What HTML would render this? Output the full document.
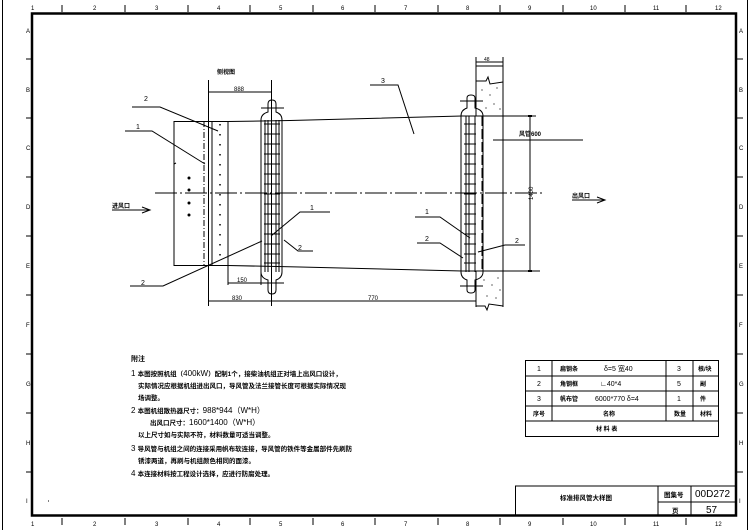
<!DOCTYPE html>
<html><head><meta charset="utf-8"><style>
html,body{margin:0;padding:0;background:#fff;}
svg{display:block;}
text{font-family:"Liberation Sans","Noto Sans CJK SC",sans-serif;fill:#000;}
.s{font-size:6px;font-weight:bold;}
.n{font-size:8px;}
</style></head><body>
<svg width="749" height="530" viewBox="0 0 749 530" xmlns="http://www.w3.org/2000/svg" stroke="#000" fill="none" stroke-width="1">
<!-- outer thin lines -->
<line x1="2.5" y1="0" x2="2.5" y2="530"/>
<line x1="747.5" y1="0" x2="747.5" y2="530"/>
<!-- main frame -->
<rect x="32" y="13.5" width="704" height="502" stroke-width="2.5"/>
<!-- column ticks top/bottom -->
<g stroke-width="1">
<line x1="62" y1="5" x2="62" y2="12"/><line x1="125" y1="5" x2="125" y2="12"/><line x1="188" y1="5" x2="188" y2="12"/><line x1="250" y1="5" x2="250" y2="12"/><line x1="313" y1="5" x2="313" y2="12"/><line x1="375" y1="5" x2="375" y2="12"/><line x1="438" y1="5" x2="438" y2="12"/><line x1="500" y1="5" x2="500" y2="12"/><line x1="563" y1="5" x2="563" y2="12"/><line x1="625" y1="5" x2="625" y2="12"/><line x1="686" y1="5" x2="686" y2="12"/>
<line x1="62" y1="518" x2="62" y2="525"/><line x1="125" y1="518" x2="125" y2="525"/><line x1="188" y1="518" x2="188" y2="525"/><line x1="250" y1="518" x2="250" y2="525"/><line x1="313" y1="518" x2="313" y2="525"/><line x1="375" y1="518" x2="375" y2="525"/><line x1="438" y1="518" x2="438" y2="525"/><line x1="500" y1="518" x2="500" y2="525"/><line x1="563" y1="518" x2="563" y2="525"/><line x1="625" y1="518" x2="625" y2="525"/><line x1="686" y1="518" x2="686" y2="525"/>
<line x1="26" y1="59" x2="32" y2="59"/><line x1="26" y1="118" x2="32" y2="118"/><line x1="26" y1="177" x2="32" y2="177"/><line x1="26" y1="236" x2="32" y2="236"/><line x1="26" y1="295" x2="32" y2="295"/><line x1="26" y1="354" x2="32" y2="354"/><line x1="26" y1="413" x2="32" y2="413"/><line x1="26" y1="472" x2="32" y2="472"/>
<line x1="737" y1="59" x2="743" y2="59"/><line x1="737" y1="118" x2="743" y2="118"/><line x1="737" y1="177" x2="743" y2="177"/><line x1="737" y1="236" x2="743" y2="236"/><line x1="737" y1="295" x2="743" y2="295"/><line x1="737" y1="354" x2="743" y2="354"/><line x1="737" y1="413" x2="743" y2="413"/><line x1="737" y1="472" x2="743" y2="472"/>
</g>
<g stroke="none" font-size="6">
<text x="31" y="10">1</text><text x="93" y="10">2</text><text x="155" y="10">3</text><text x="217" y="10">4</text><text x="279" y="10">5</text><text x="341" y="10">6</text><text x="404" y="10">7</text><text x="466" y="10">8</text><text x="528" y="10">9</text><text x="590" y="10">10</text><text x="653" y="10">11</text><text x="715" y="10">12</text>
<text x="31" y="526">1</text><text x="93" y="526">2</text><text x="155" y="526">3</text><text x="217" y="526">4</text><text x="279" y="526">5</text><text x="341" y="526">6</text><text x="404" y="526">7</text><text x="466" y="526">8</text><text x="528" y="526">9</text><text x="590" y="526">10</text><text x="653" y="526">11</text><text x="715" y="526">12</text>
<text x="26" y="33">A</text><text x="26" y="92">B</text><text x="26" y="150">C</text><text x="26" y="209">D</text><text x="26" y="268">E</text><text x="26" y="327">F</text><text x="26" y="386">G</text><text x="26" y="445">H</text><text x="26" y="503">I</text>
<text x="739" y="33">A</text><text x="739" y="92">B</text><text x="739" y="150">C</text><text x="739" y="209">D</text><text x="739" y="268">E</text><text x="739" y="327">F</text><text x="739" y="386">G</text><text x="739" y="445">H</text><text x="739" y="503">I</text>
</g>

<!-- centerline -->
<line x1="155" y1="193" x2="545" y2="193" stroke-dasharray="22,3,2,3"/>
<!-- left box -->
<rect x="174" y="121.5" width="54" height="144"/>
<line x1="204" y1="121" x2="204" y2="266" stroke-dasharray="6,2,1,2"/>
<line x1="208.5" y1="80" x2="208.5" y2="306"/>
<line x1="212" y1="121" x2="212" y2="266"/>
<line x1="220" y1="124" x2="220" y2="264" stroke-width="1.5" stroke-dasharray="1.5,8.5"/>
<line x1="174" y1="164" x2="176" y2="163"/>
<g fill="#000" stroke="none"><circle cx="189" cy="178" r="1.5"/><circle cx="189" cy="190" r="1.5"/><circle cx="189" cy="203" r="1.5"/><circle cx="189" cy="215" r="1.5"/></g>
<!-- duct lines -->
<polyline points="228,121.5 290,120.5 462,116 536,116"/>
<polyline points="228,265.5 300,267 462,271 540,271"/>
<!-- flange 1 -->
<path d="M268,104 Q268,100 272,100 Q276,100 276,104 L276,112 Q282,114 282,120 L282,272 Q282,278 276,280 L276,290 Q276,294 272,294 Q268,294 268,290 L268,280 Q261,278 261,272 L261,120 Q261,114 268,112 Z"/>
<line x1="265" y1="120" x2="265" y2="272"/>
<line x1="279" y1="120" x2="279" y2="272"/>
<line x1="268" y1="120" x2="268" y2="272"/>
<line x1="276" y1="120" x2="276" y2="272"/>
<line x1="271.5" y1="80" x2="271.5" y2="306"/>
<line x1="261" y1="108" x2="284" y2="108"/>
<line x1="261" y1="283" x2="284" y2="283"/>
<g stroke-width="1">
<line x1="264" y1="124" x2="280" y2="124"/><line x1="264" y1="134" x2="280" y2="134"/><line x1="264" y1="144" x2="280" y2="144"/><line x1="264" y1="154" x2="280" y2="154"/><line x1="264" y1="164" x2="280" y2="164"/><line x1="264" y1="174" x2="280" y2="174"/><line x1="264" y1="184" x2="280" y2="184"/><line x1="264" y1="194" x2="280" y2="194"/><line x1="264" y1="204" x2="280" y2="204"/><line x1="264" y1="214" x2="280" y2="214"/><line x1="264" y1="224" x2="280" y2="224"/><line x1="264" y1="234" x2="280" y2="234"/><line x1="264" y1="244" x2="280" y2="244"/><line x1="264" y1="254" x2="280" y2="254"/><line x1="264" y1="263" x2="280" y2="263"/>
</g>
<!-- flange 2 -->
<path d="M467,98 Q467,95 471,95 Q475,95 475,98 L475,108 Q483,110 483,116 L483,272 Q483,278 475,280 L475,290 Q475,293 471,293 Q467,293 467,290 L467,280 Q461,278 461,272 L461,116 Q461,110 467,108 Z"/>
<line x1="466" y1="116" x2="466" y2="272"/>
<line x1="469" y1="116" x2="469" y2="272"/>
<line x1="475" y1="116" x2="475" y2="272"/>
<line x1="482" y1="116" x2="482" y2="272" stroke-dasharray="10,3"/>
<line x1="460" y1="101" x2="483" y2="101"/>
<line x1="460" y1="286" x2="483" y2="286"/>
<g>
<line x1="464" y1="124" x2="476" y2="124"/><line x1="464" y1="134" x2="476" y2="134"/><line x1="464" y1="144" x2="476" y2="144"/><line x1="464" y1="154" x2="476" y2="154"/><line x1="464" y1="164" x2="476" y2="164"/><line x1="464" y1="174" x2="476" y2="174"/><line x1="464" y1="184" x2="476" y2="184"/><line x1="464" y1="194" x2="476" y2="194"/><line x1="464" y1="204" x2="476" y2="204"/><line x1="464" y1="214" x2="476" y2="214"/><line x1="464" y1="224" x2="476" y2="224"/><line x1="464" y1="234" x2="476" y2="234"/><line x1="464" y1="244" x2="476" y2="244"/><line x1="464" y1="254" x2="476" y2="254"/><line x1="464" y1="263" x2="476" y2="263"/>
</g>
<!-- wall -->
<line x1="476" y1="57" x2="476" y2="116"/>
<line x1="476" y1="271" x2="476" y2="307"/>
<line x1="503" y1="57" x2="503" y2="307"/>
<line x1="476" y1="66" x2="503" y2="66"/>
<path d="M476,81 L486,81 L488,77 L490,84 L503,82"/>
<path d="M476,306 L485,306 L487,310 L489,304 L503,306"/>
<g fill="#000" stroke="none">
<circle cx="482" cy="90" r=".6"/><circle cx="490" cy="95" r=".6"/><circle cx="497" cy="88" r=".6"/><circle cx="494" cy="104" r=".6"/><circle cx="486" cy="108" r=".6"/><circle cx="500" cy="109" r=".6"/>
<circle cx="484" cy="280" r=".6"/><circle cx="492" cy="285" r=".6"/><circle cx="498" cy="278" r=".6"/><circle cx="487" cy="296" r=".6"/><circle cx="496" cy="298" r=".6"/><circle cx="500" cy="290" r=".6"/>
</g>
<!-- dimensions -->
<line x1="208" y1="92" x2="271" y2="92"/>
<line x1="228" y1="266" x2="228" y2="285"/>
<line x1="261" y1="272" x2="261" y2="285"/>
<line x1="228" y1="283" x2="261" y2="283"/>
<line x1="208" y1="301" x2="476" y2="301"/>
<line x1="476" y1="57" x2="476" y2="60"/>
<line x1="476" y1="62" x2="503" y2="62"/>
<line x1="530" y1="116" x2="530" y2="271"/>
<line x1="528" y1="116" x2="532" y2="116" stroke-width="2"/><line x1="528" y1="271" x2="532" y2="271" stroke-width="2"/>
<!-- arrows -->
<line x1="112" y1="210" x2="150" y2="210"/><polyline points="142,207 150,210 142,213"/>
<line x1="572" y1="200" x2="605" y2="200"/><polyline points="597,197 605,200 597,203"/>
<!-- leaders -->
<polyline points="132,107 160,107 218,131"/>
<polyline points="125,131 152,131 205,164"/>
<polyline points="130,286 163,286 262,241"/>
<polyline points="330,212 300,212 271,236"/>
<polyline points="313,251 298,251 284,240"/>
<polyline points="370,85 398,85 414,134"/>
<polyline points="583,140 493,140"/>
<polyline points="415,217 440,217 470,238"/>
<polyline points="417,243 440,243 463,258"/>
<polyline points="525,245 505,245 478,252"/>
<!-- labels -->
<g stroke="none" font-size="7">
<text x="144" y="101">2</text><text x="136" y="129">1</text><text x="141" y="285">2</text><text x="310" y="210">1</text><text x="298" y="250">2</text>
<text x="381" y="83">3</text><text x="425" y="214">1</text><text x="425" y="241">2</text><text x="515" y="243">2</text>
<text x="234" y="91" font-size="6">888</text><text x="237" y="282" font-size="6">150</text><text x="232" y="300" font-size="6">830</text><text x="368" y="300" font-size="6">770</text><text x="484" y="61" font-size="5">48</text>
<text x="533" y="200" font-size="6" transform="rotate(-90 533 200)">1400</text>
</g>
<g stroke="none" class="s">
<text x="217" y="74">侧视图</text>
<text x="112" y="208">进风口</text>
<text x="572" y="198">出风口</text>
<text x="519" y="136">风管600</text>
</g>
<!-- notes -->
<g stroke="none" class="n">
<text x="131" y="361" class="s" style="font-size:7px">附注</text>
<text x="131" y="376">1 <tspan style="font-size:6.5px;font-weight:bold">本图按照机组（</tspan>400kW<tspan style="font-size:6.5px;font-weight:bold">）配制1个，接柴油机组正对墙上出风口设计，</tspan></text>
<text x="138" y="388" style="font-size:6.5px;font-weight:bold">实际情况应根据机组进出风口，导风管及法兰接管长度可根据实际情况现</text>
<text x="138" y="400" style="font-size:6.5px;font-weight:bold">场调整。</text>
<text x="131" y="413">2 <tspan style="font-size:6.5px;font-weight:bold">本图机组散热器尺寸：</tspan>988*944（W*H）</text>
<text x="150" y="425"><tspan style="font-size:6.5px;font-weight:bold">出风口尺寸：</tspan>1600*1400（W*H）</text>
<text x="138" y="437" style="font-size:6.5px;font-weight:bold">以上尺寸如与实际不符，材料数量可适当调整。</text>
<text x="131" y="451">3 <tspan style="font-size:6.5px;font-weight:bold">导风管与机组之间的连接采用帆布软连接，导风管的铁件等金属部件先刷防</tspan></text>
<text x="138" y="463" style="font-size:6.5px;font-weight:bold">锈漆两道，再刷与机组颜色相同的面漆。</text>
<text x="131" y="476">4 <tspan style="font-size:6.5px;font-weight:bold">本连接材料按工程设计选择，应进行防腐处理。</tspan></text>
</g>
<line x1="48" y1="501" x2="49" y2="501"/>
<!-- table -->
<rect x="525.5" y="360.5" width="193" height="76"/>
<line x1="525" y1="376" x2="719" y2="376"/><line x1="525" y1="391" x2="719" y2="391"/><line x1="525" y1="406" x2="719" y2="406"/><line x1="525" y1="421" x2="719" y2="421"/>
<line x1="552" y1="360" x2="552" y2="421"/><line x1="666" y1="360" x2="666" y2="421"/><line x1="693" y1="360" x2="693" y2="421"/>
<g stroke="none" font-size="7">
<text x="537" y="371">1</text><text x="537" y="386">2</text><text x="537" y="401">3</text>
<text x="604" y="371">δ=5 宽40</text><text x="600" y="386">∟40*4</text><text x="595" y="401">6000*770 δ=4</text>
<text x="677" y="371">3</text><text x="677" y="386">5</text><text x="677" y="401">1</text>
</g>
<g stroke="none" class="s">
<text x="560" y="371">扁钢条</text><text x="560" y="386">角钢框</text><text x="560" y="401">帆布管</text>
<text x="698" y="371">根/块</text><text x="700" y="386">副</text><text x="700" y="401">件</text>
<text x="533" y="416">序号</text><text x="603" y="416">名称</text><text x="674" y="416">数量</text><text x="700" y="416">材料</text>
<text x="596" y="431">材 料 表</text>
</g>
<!-- title block -->
<line x1="515" y1="486" x2="736" y2="486"/>
<line x1="515.5" y1="486" x2="515.5" y2="516"/>
<line x1="658" y1="486" x2="658" y2="516"/><line x1="691" y1="486" x2="691" y2="516"/>
<line x1="658" y1="502" x2="736" y2="502"/>
<g stroke="none">
<text x="560" y="500" class="s" style="font-size:6.5px">标准排风管大样图</text>
<text x="664" y="497" class="s" style="font-size:6.5px">图集号</text>
<text x="672" y="513" class="s" style="font-size:6.5px">页</text>
<text x="695" y="497" font-size="10">00D272</text>
<text x="706" y="513" font-size="10">57</text>
</g>
</svg>
</body></html>
